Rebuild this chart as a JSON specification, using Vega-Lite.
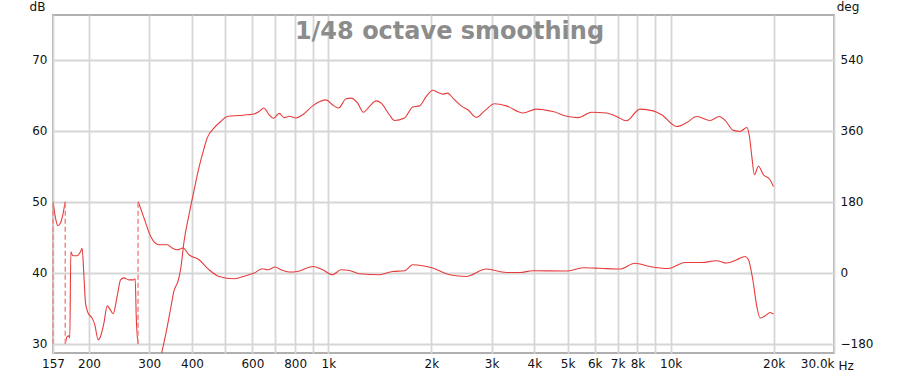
{
  "$schema": "https://vega.github.io/schema/vega-lite/v6.json",
  "autosize": {"type": "none"},
  "width": 781,
  "height": 338,
  "padding": {"left": 53, "top": 15, "right": 66, "bottom": 24},
  "background": "white",
  "title": {
    "text": "1/48 octave smoothing",
    "font": "DejaVu Sans",
    "fontSize": 24,
    "fontWeight": "bold",
    "color": "#8c8c8c",
    "anchor": "middle",
    "frame": "group",
    "baseline": "alphabetic",
    "offset": 0,
    "dx": 6,
    "dy": 63
  },
  "config": {
    "view": {"stroke": "#b0b0b0", "strokeWidth": 2},
    "axis": {
      "labelFont": "DejaVu Sans",
      "labelFontSize": 12,
      "labelColor": "#111111",
      "titleFont": "DejaVu Sans",
      "titleFontSize": 12,
      "titleFontWeight": "normal",
      "titleColor": "#111111",
      "ticks": false,
      "domain": false
    }
  },
  "datasets": {
    "spl": [
      {"f": 310, "db": 24.0}, {"f": 326, "db": 28.7}, {"f": 335, "db": 31.3}, {"f": 346.5, "db": 35.0},
      {"f": 354, "db": 37.4}, {"f": 365, "db": 39.0}, {"f": 371, "db": 40.7}, {"f": 379, "db": 44.4},
      {"f": 392, "db": 48.2}, {"f": 405, "db": 51.5}, {"f": 419, "db": 54.8}, {"f": 434, "db": 57.6},
      {"f": 443, "db": 59.0}, {"f": 464, "db": 60.4}, {"f": 485, "db": 61.3}, {"f": 507, "db": 62.0},
      {"f": 549, "db": 62.15}, {"f": 580, "db": 62.25}, {"f": 607, "db": 62.35}, {"f": 628, "db": 62.7},
      {"f": 648, "db": 63.2}, {"f": 672, "db": 62.25}, {"f": 692, "db": 61.75}, {"f": 719, "db": 62.45},
      {"f": 743, "db": 61.85}, {"f": 769, "db": 62.05}, {"f": 804, "db": 61.8}, {"f": 841, "db": 62.25},
      {"f": 900, "db": 63.5}, {"f": 941, "db": 64.1}, {"f": 985, "db": 64.35}, {"f": 1029, "db": 63.65},
      {"f": 1072, "db": 63.2}, {"f": 1126, "db": 64.5}, {"f": 1165, "db": 64.6}, {"f": 1218, "db": 63.9},
      {"f": 1266, "db": 62.6}, {"f": 1318, "db": 63.4}, {"f": 1379, "db": 64.2}, {"f": 1426, "db": 63.9},
      {"f": 1508, "db": 62.25}, {"f": 1560, "db": 61.45}, {"f": 1669, "db": 61.8}, {"f": 1765, "db": 63.35},
      {"f": 1846, "db": 63.5}, {"f": 1931, "db": 64.8}, {"f": 2019, "db": 65.7}, {"f": 2089, "db": 65.4},
      {"f": 2160, "db": 65.15}, {"f": 2234, "db": 65.3}, {"f": 2311, "db": 64.6}, {"f": 2446, "db": 63.5},
      {"f": 2557, "db": 62.95}, {"f": 2706, "db": 61.9}, {"f": 2861, "db": 62.8}, {"f": 3061, "db": 63.8},
      {"f": 3311, "db": 63.5}, {"f": 3704, "db": 62.5}, {"f": 4054, "db": 63.05}, {"f": 4533, "db": 62.7},
      {"f": 5015, "db": 62.0}, {"f": 5365, "db": 61.85}, {"f": 5872, "db": 62.6}, {"f": 6497, "db": 62.5},
      {"f": 6950, "db": 62.0}, {"f": 7432, "db": 61.4}, {"f": 8131, "db": 63.05}, {"f": 8895, "db": 62.8},
      {"f": 9412, "db": 62.25}, {"f": 10414, "db": 60.6}, {"f": 11140, "db": 61.15}, {"f": 11915, "db": 62.0},
      {"f": 13032, "db": 61.45}, {"f": 13875, "db": 62.0}, {"f": 14417, "db": 61.45}, {"f": 15252, "db": 60.05},
      {"f": 15953, "db": 59.9}, {"f": 16689, "db": 60.45}, {"f": 16984, "db": 59.2}, {"f": 17260, "db": 56.4},
      {"f": 17568, "db": 53.8}, {"f": 18048, "db": 55.0}, {"f": 18664, "db": 53.8}, {"f": 19436, "db": 53.2},
      {"f": 19966, "db": 52.15}
    ],
    "phase": [
      {"f": 157, "deg": 180, "seg": 1}, {"f": 159.7, "deg": 138.7, "seg": 1}, {"f": 162.2, "deg": 119.2, "seg": 1},
      {"f": 165.1, "deg": 126, "seg": 1}, {"f": 167.7, "deg": 147, "seg": 1}, {"f": 170.4, "deg": 180, "seg": 1},
      {"f": 170.6, "deg": -180, "seg": 2}, {"f": 172.6, "deg": -162, "seg": 2}, {"f": 174.6, "deg": -160, "seg": 2},
      {"f": 175.8, "deg": -165, "seg": 2}, {"f": 177, "deg": 53, "seg": 2}, {"f": 179.4, "deg": 43, "seg": 2},
      {"f": 184.6, "deg": 43, "seg": 2}, {"f": 188.9, "deg": 53, "seg": 2}, {"f": 191, "deg": 62, "seg": 2},
      {"f": 193.1, "deg": 0, "seg": 2}, {"f": 195.4, "deg": -77, "seg": 2}, {"f": 198.8, "deg": -102, "seg": 2},
      {"f": 204.3, "deg": -115, "seg": 2}, {"f": 208, "deg": -132, "seg": 2}, {"f": 212.7, "deg": -170, "seg": 2},
      {"f": 216.2, "deg": -161, "seg": 2}, {"f": 221.1, "deg": -127.5, "seg": 2}, {"f": 226.1, "deg": -84, "seg": 2},
      {"f": 230.1, "deg": -92, "seg": 2}, {"f": 235.3, "deg": -104, "seg": 2}, {"f": 241.7, "deg": -60, "seg": 2},
      {"f": 247.3, "deg": -18, "seg": 2}, {"f": 252.9, "deg": -13, "seg": 2}, {"f": 261.6, "deg": -18, "seg": 2},
      {"f": 270.5, "deg": -18, "seg": 2}, {"f": 272.9, "deg": -15, "seg": 2}, {"f": 274.8, "deg": -111, "seg": 2},
      {"f": 278, "deg": -180, "seg": 2},
      {"f": 278.5, "deg": 180, "seg": 3}, {"f": 289.5, "deg": 139, "seg": 3}, {"f": 302.8, "deg": 92, "seg": 3},
      {"f": 320.3, "deg": 71, "seg": 3}, {"f": 338.6, "deg": 71, "seg": 3}, {"f": 350.3, "deg": 62.6, "seg": 3},
      {"f": 362.2, "deg": 58.3, "seg": 3}, {"f": 376.3, "deg": 62.6, "seg": 3}, {"f": 391.9, "deg": 45.6, "seg": 3},
      {"f": 419.3, "deg": 33, "seg": 3}, {"f": 448.5, "deg": 7.6, "seg": 3}, {"f": 479.7, "deg": -9.4, "seg": 3},
      {"f": 530.7, "deg": -15.2, "seg": 3}, {"f": 574.2, "deg": -7.6, "seg": 3}, {"f": 607.4, "deg": -0.8, "seg": 3},
      {"f": 642.5, "deg": 10.1, "seg": 3}, {"f": 664.5, "deg": 7.6, "seg": 3}, {"f": 699.9, "deg": 14.5, "seg": 3},
      {"f": 727.2, "deg": 7.6, "seg": 3}, {"f": 768.9, "deg": 1.8, "seg": 3}, {"f": 813.2, "deg": 3.3, "seg": 3},
      {"f": 900, "deg": 16, "seg": 3}, {"f": 962.3, "deg": 7.6, "seg": 3}, {"f": 1029, "deg": -5, "seg": 3},
      {"f": 1089.5, "deg": 7.6, "seg": 3}, {"f": 1152, "deg": 5.8, "seg": 3}, {"f": 1232, "deg": -2.5, "seg": 3},
      {"f": 1411, "deg": -5, "seg": 3}, {"f": 1542, "deg": 3.3, "seg": 3}, {"f": 1669, "deg": 5.1, "seg": 3},
      {"f": 1765, "deg": 20.3, "seg": 3}, {"f": 1888, "deg": 17.7, "seg": 3}, {"f": 2019, "deg": 11.9, "seg": 3},
      {"f": 2260, "deg": -5, "seg": 3}, {"f": 2529, "deg": -9.4, "seg": 3}, {"f": 2894, "deg": 9.4, "seg": 3},
      {"f": 3311, "deg": 0.8, "seg": 3}, {"f": 3623, "deg": 0.8, "seg": 3}, {"f": 3963, "deg": 5.1, "seg": 3},
      {"f": 4962, "deg": 4.3, "seg": 3}, {"f": 5549, "deg": 12.7, "seg": 3}, {"f": 6211, "deg": 11.4, "seg": 3},
      {"f": 7105, "deg": 9.4, "seg": 3}, {"f": 7862, "deg": 24.1, "seg": 3}, {"f": 8697, "deg": 16, "seg": 3},
      {"f": 9840, "deg": 10.9, "seg": 3}, {"f": 11012, "deg": 26.1, "seg": 3}, {"f": 12320, "deg": 26.1, "seg": 3},
      {"f": 13635, "deg": 30.4, "seg": 3}, {"f": 14584, "deg": 24.6, "seg": 3}, {"f": 15605, "deg": 33, "seg": 3},
      {"f": 16503, "deg": 41.3, "seg": 3}, {"f": 16875, "deg": 33, "seg": 3}, {"f": 17378, "deg": -17.7, "seg": 3},
      {"f": 17853, "deg": -85.4, "seg": 3}, {"f": 18253, "deg": -114.8, "seg": 3}, {"f": 18880, "deg": -109, "seg": 3},
      {"f": 19526, "deg": -100.6, "seg": 3}, {"f": 19966, "deg": -104.7, "seg": 3}
    ],
    "wraps": [
      {"f": 157, "lo": -180, "hi": 180},
      {"f": 170.5, "lo": -180, "hi": 180},
      {"f": 278.2, "lo": -180, "hi": 180}
    ]
  },
  "encoding": {
    "x": {
      "field": "f",
      "type": "quantitative",
      "scale": {"type": "log", "domain": [157, 30000], "nice": false},
      "axis": {
        "values": [157, 200, 300, 400, 500, 600, 700, 800, 900, 1000, 2000, 3000, 4000, 5000, 6000, 7000, 8000, 9000, 10000, 20000, 30000],
        "labelExpr": "(datum.value == 500 || datum.value == 700 || datum.value == 900 || datum.value == 9000) ? '' : (datum.value == 30000 ? '30.0k' : (datum.value >= 1000 ? (datum.value / 1000) + 'k' : '' + datum.value))",
        "labelOverlap": false,
        "labelFlush": false,
        "labelBound": false,
        "labelPadding": 5,
        "labelAlign": {"condition": {"test": "datum.value == 30000", "value": "right"}, "value": "center"},
        "grid": true,
        "gridColor": "#d6d6d6",
        "gridWidth": 1.8,
        "title": "Hz",
        "titleX": 785,
        "titleY": 12,
        "titleAlign": "left",
        "titleBaseline": "middle",
        "titleAnchor": null
      }
    }
  },
  "layer": [
    {
      "data": {"name": "spl"},
      "mark": {"type": "line", "clip": true, "color": "#e63c3c", "strokeWidth": 1.1, "interpolate": "monotone"},
      "encoding": {
        "y": {
          "field": "db",
          "type": "quantitative",
          "scale": {"domain": [28.7, 76.3], "nice": false, "zero": false},
          "axis": {
            "orient": "left",
            "values": [30, 40, 50, 60, 70],
            "grid": true,
            "gridColor": "#d6d6d6",
            "gridWidth": 1.8,
            "labelPadding": 6,
            "title": "dB",
            "titleAngle": 0,
            "titleX": -16,
            "titleY": -9,
            "titleAlign": "center",
            "titleBaseline": "middle"
          }
        }
      }
    },
    {
      "data": {"name": "phase"},
      "mark": {"type": "line", "clip": true, "color": "#e63c3c", "strokeWidth": 1.1, "interpolate": "monotone"},
      "encoding": {
        "y": {
          "field": "deg",
          "type": "quantitative",
          "scale": {"domain": [-203.4, 653.4], "nice": false, "zero": false},
          "axis": {
            "orient": "right",
            "values": [-180, 0, 180, 360, 540],
            "grid": false,
            "labelPadding": 6,
            "title": "deg",
            "titleAngle": 0,
            "titleX": 13.5,
            "titleY": -9,
            "titleAlign": "center",
            "titleBaseline": "middle"
          }
        },
        "detail": {"field": "seg", "type": "nominal"}
      }
    },
    {
      "data": {"name": "wraps"},
      "mark": {"type": "rule", "color": "#f08a8a", "strokeWidth": 1.5, "strokeDash": [5, 3]},
      "encoding": {
        "y": {"field": "lo", "type": "quantitative", "scale": {"domain": [-203.4, 653.4], "nice": false, "zero": false}, "axis": null},
        "y2": {"field": "hi"}
      }
    }
  ],
  "resolve": {"scale": {"y": "independent"}, "axis": {"y": "independent"}}
}
